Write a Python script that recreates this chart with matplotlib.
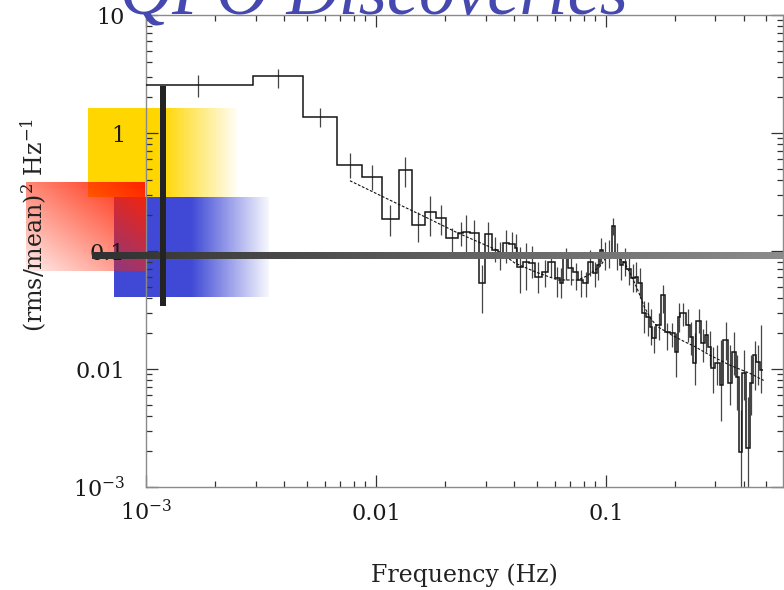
import numpy as np
import matplotlib
matplotlib.use('Agg')
import matplotlib.pyplot as plt
from matplotlib.ticker import FixedLocator, LogLocator, NullFormatter
from matplotlib.patches import Rectangle

plt.rcParams['font.family'] = ['DejaVu Serif']
plt.rcParams['mathtext.fontset'] = 'dejavuserif'

# ---------------- text ----------------
title_text = 'QPO Discoveries'
x_label = 'Frequency (Hz)'
y_label = r'(rms/mean)$^2$ Hz$^{-1}$'

# ---------------- data ----------------
bin_edges_mhz = [0.98, 2.92, 4.83, 6.78, 8.70, 10.62, 12.59, 14.34, 16.33, 18.24,
                 20.15, 22.79, 23.96, 25.63, 28.12, 29.78, 31.85, 34.02, 35.55, 37.87,
                 40.21, 41.15, 43.70, 46.27, 49.13, 52.53, 56.11, 60.02, 63.10, 65.21,
                 68.56, 72.08, 75.78, 79.67, 83.76, 87.54, 91.12, 94.18, 97.34, 101.5,
                 105.9, 109.4, 115.1, 118.9, 123.0, 129.3, 133.7, 138.2, 143.8, 150.3,
                 155.4, 159.6, 166.1, 174.7, 180.5, 189.8, 199.5, 206.2, 211.3, 222.8,
                 231.9, 239.7, 248.0, 260.7, 269.4, 278.4, 288.1, 297.8, 313.1, 323.6,
                 340.2, 355.5, 367.5, 379.8, 392.9, 409.0, 422.8, 436.9, 452.0, 467.3,
                 483.0]

power = [2.55, 3.04, 1.37, 0.536, 0.424, 0.187, 0.485, 0.166, 0.214, 0.190,
         0.130, 0.142, 0.146, 0.142, 0.0536, 0.139, 0.102, 0.0925, 0.1175, 0.115,
         0.106, 0.0736, 0.0807, 0.079, 0.0606, 0.0668, 0.0807, 0.059, 0.0536, 0.089,
         0.0718, 0.0668, 0.0568, 0.0536, 0.0807, 0.0651, 0.0761, 0.102, 0.0925, 0.095,
         0.163, 0.0895, 0.0761, 0.0811, 0.0704, 0.059, 0.0606, 0.0539, 0.0298, 0.0277,
         0.0228, 0.0183, 0.0236, 0.0424, 0.0207, 0.0202, 0.0140, 0.0277, 0.0298, 0.0236,
         0.0188, 0.0112, 0.0256, 0.0166, 0.0194, 0.0155, 0.0102, 0.0112, 0.0073, 0.0176,
         0.0076, 0.0140, 0.0085, 0.00199, 0.0092, 0.00214, 0.0076, 0.0131, 0.0115, 0.0098]

err_high = [3.10, 3.49, 1.63, 0.677, 0.536, 0.245, 0.626, 0.214, 0.292, 0.245,
            0.157, 0.176, 0.202, 0.183, 0.076, 0.176, 0.131, 0.119, 0.151, 0.145,
            0.139, 0.108, 0.117, 0.110, 0.081, 0.084, 0.098, 0.073, 0.072, 0.106,
            0.093, 0.079, 0.069, 0.066, 0.102, 0.081, 0.094, 0.129, 0.119, 0.124,
            0.191, 0.117, 0.098, 0.106, 0.094, 0.078, 0.081, 0.072, 0.038, 0.037,
            0.032, 0.023, 0.030, 0.0515, 0.0245, 0.0245, 0.020, 0.036, 0.036, 0.032,
            0.025, 0.020, 0.032, 0.022, 0.026, 0.021, 0.0154, 0.016, 0.0176, 0.025,
            0.016, 0.0206, 0.0131, 0.0045, 0.0145, 0.0058, 0.0131, 0.0172, 0.016, 0.0236]

err_low = [2.02, 2.41, 1.12, 0.416, 0.329, 0.134, 0.349, 0.119, 0.134, 0.137,
           0.098, 0.110, 0.096, 0.098, 0.030, 0.089, 0.081, 0.069, 0.079, 0.087,
           0.081, 0.044, 0.047, 0.059, 0.044, 0.0495, 0.060, 0.041, 0.040, 0.057,
           0.0515, 0.047, 0.041, 0.041, 0.061, 0.0495, 0.057, 0.081, 0.069, 0.072,
           0.137, 0.069, 0.057, 0.061, 0.0515, 0.045, 0.045, 0.040, 0.020, 0.019,
           0.016, 0.0137, 0.0176, 0.030, 0.0145, 0.0154, 0.0086, 0.0206, 0.023, 0.017,
           0.0131, 0.0073, 0.020, 0.0115, 0.0139, 0.0106, 0.0063, 0.0073, 0.0036, 0.0119,
           0.0050, 0.0089, 0.0045, 0.0001, 0.0055, 0.0001, 0.0041, 0.0067, 0.0073, 0.0063]

model_freq_mhz = [7.709, 11.50, 17.17, 22.73, 33.58, 40.21, 49.13, 61.84, 75.54, 82.69,
                  94.18, 100.0, 106.2, 112.8, 120.9, 129.7, 137.8, 147.8, 158.5, 168.3,
                  193.6, 220.6, 243.8, 283.3, 346.0, 422.8, 486.3]
model_power = [0.394, 0.270, 0.186, 0.142, 0.102, 0.0791, 0.0668, 0.0568, 0.0568, 0.0614,
               0.0736, 0.0872, 0.0916, 0.0890, 0.0791, 0.0606, 0.0467, 0.0329, 0.0260, 0.0228,
               0.0194, 0.0170, 0.0155, 0.0131, 0.0108, 0.0092, 0.0080]

x_ticks = [1e-3, 0.01, 0.1]
x_tick_labels = [r'10$^{-3}$', '0.01', '0.1']
y_ticks = [1e-3, 0.01, 0.1, 1, 10]
y_tick_labels = [r'10$^{-3}$', '0.01', '0.1', '1', '10']

# ---------------- figure ----------------
W, H = 784, 590
fig = plt.figure(figsize=(W / 100, H / 100), dpi=100)
fig.patch.set_facecolor('white')


def hgrad(axp, x0, x1, y0, y1, rgb, solid_frac, a_end, z):
    n = 300
    t = np.linspace(0, 1, n)
    a = np.where(t < solid_frac, 1.0,
                 1.0 - (1.0 - a_end) * (t - solid_frac) / (1.0 - solid_frac))
    img = np.zeros((2, n, 4))
    img[..., 0] = rgb[0]
    img[..., 1] = rgb[1]
    img[..., 2] = rgb[2]
    img[..., 3] = a[None, :]
    axp.imshow(img, extent=(x0, x1, y1, y0), aspect='auto',
               interpolation='bilinear', zorder=z)


# background decorations (pixel coordinates)
bg = fig.add_axes([0, 0, 1, 1], zorder=0)
hgrad(bg, 88, 237, 108, 197, (1.0, 0.843, 0.0), 0.5, 0.04, 1)
hgrad(bg, 114, 269, 197, 297, (0.25, 0.29, 0.84), 0.5, 0.04, 2)
# red diagonal gradient
nx, ny = 120, 90
xn = np.linspace(0, 1, nx)[None, :]
yn = np.linspace(0, 1, ny)[:, None]
alpha = 0.08 + 0.92 * (xn + (1 - yn)) / 2
red = np.zeros((ny, nx, 4))
red[..., 0] = 1.0
red[..., 1] = 0.13
red[..., 2] = 0.0
red[..., 3] = alpha
bg.imshow(red, extent=(26, 145, 271, 182), aspect='auto',
          interpolation='bilinear', zorder=3)
bg.set_xlim(0, W)
bg.set_ylim(H, 0)
bg.axis('off')

# main axes
ax = fig.add_axes([146 / W, 1 - 487 / H, (783 - 146) / W, (487 - 15) / H], zorder=1)
ax.patch.set_alpha(0)
ax.set_xscale('log')
ax.set_yscale('log')

edges = np.array(bin_edges_mhz) / 1000.0
pw = np.array(power)
centers = np.sqrt(edges[:-1] * edges[1:])
ax.vlines(centers, err_low, err_high, color='#454545', lw=0.9, zorder=2)
ax.stairs(pw, edges, baseline=None, color='#151515', lw=1.1, zorder=3)
ax.plot(np.array(model_freq_mhz) / 1000.0, model_power, color='#111111',
        lw=0.8, ls=(0, (2.5, 1.5)), zorder=4)

ax.set_xlim(1e-3, 0.59)
ax.set_ylim(1e-3, 10)

ax.set_xticks(x_ticks, labels=x_tick_labels, va='baseline')
ax.set_yticks(y_ticks, labels=y_tick_labels)
ax.xaxis.set_minor_locator(LogLocator(base=10, subs=np.arange(2, 10), numticks=30))
ax.yaxis.set_minor_locator(LogLocator(base=10, subs=np.arange(2, 10), numticks=30))
ax.xaxis.set_minor_formatter(NullFormatter())
ax.yaxis.set_minor_formatter(NullFormatter())
ax.tick_params(which='both', direction='in', top=True, right=True,
               color='#333333', labelcolor='#1a1a1a', labelsize=16, width=0.9)
ax.tick_params(which='major', length=8.5)
ax.tick_params(which='minor', length=4.5)
ax.tick_params(axis='x', which='major', pad=24)
ax.tick_params(axis='y', which='major', pad=15)
for s in ax.spines.values():
    s.set_color('#8a8a8a')
    s.set_linewidth(1.0)

# overlay bars
ov = fig.add_axes([0, 0, 1, 1], zorder=2)
ov.patch.set_alpha(0)
gbar = np.zeros((2, 400, 3))
gv = np.linspace(0.19, 0.55, 400)
for c in range(3):
    gbar[..., c] = gv[None, :]
ov.imshow(gbar, extent=(92, 784, 259, 252), aspect='auto', interpolation='bilinear')
ov.add_patch(Rectangle((160, 86), 6.5, 220, color='#232323', lw=0))
ov.set_xlim(0, W)
ov.set_ylim(H, 0)
ov.axis('off')

# texts
fig.text(120 / W, 1 - 15 / H, title_text, fontsize=52, family='Liberation Serif',
         style='italic', color='#4548ae', ha='left', va='baseline', zorder=10)
fig.text(464 / W, 1 - 575 / H, x_label, fontsize=17, ha='center', va='center',
         color='#222222', zorder=10)
fig.text(34 / W, 1 - 225 / H, y_label, fontsize=17, rotation=90, ha='center',
         va='center', color='#222222', zorder=10)

fig.savefig('out.png', dpi=100)
